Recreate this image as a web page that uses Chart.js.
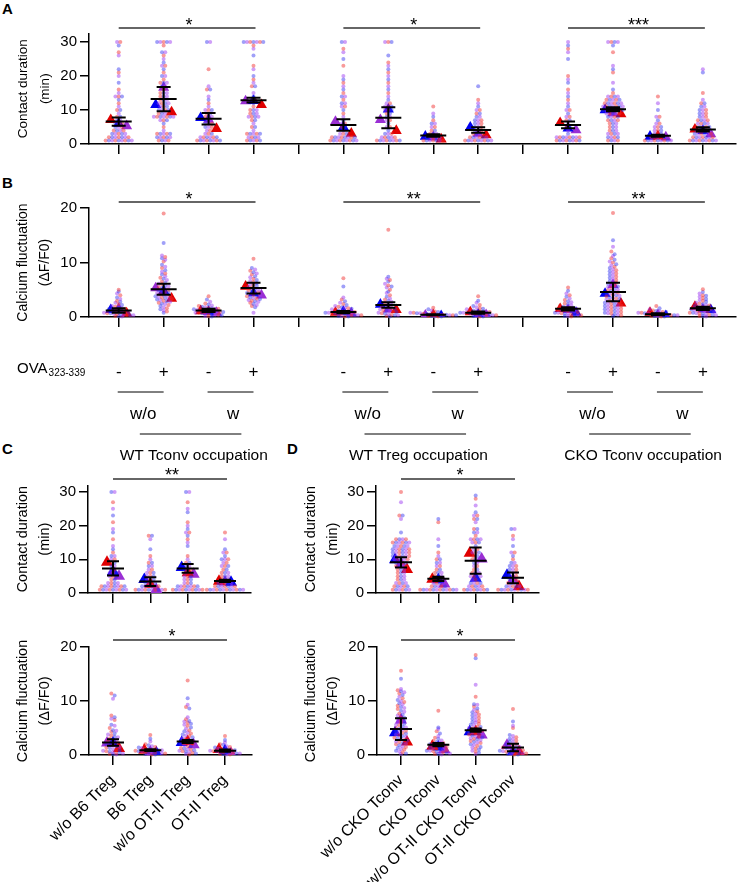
<!DOCTYPE html>
<html>
<head>
<meta charset="utf-8">
<script src="https://cdn.jsdelivr.net/npm/chart.js@4/dist/chart.umd.min.js"></script>
<style>
  body { margin: 0; background: #fff; width: 742px; height: 882px; position: relative; overflow: hidden;
         font-family: "Liberation Sans", Arial, sans-serif; }
  .p { position: absolute; }
  .tag { position: absolute; font-weight: bold; font-size: 15px; line-height: 15px; }
</style>
</head>
<body>
<div class="tag" style="left:2px;top:1px">A</div>
<div class="tag" style="left:2px;top:175px">B</div>
<div class="tag" style="left:2px;top:441px">C</div>
<div class="tag" style="left:287px;top:441px">D</div>

<div class="p" style="left:0;top:0;width:742px;height:160px"><canvas id="cA"></canvas></div>
<div class="p" style="left:0;top:160px;width:742px;height:315px"><canvas id="cB"></canvas></div>
<div class="p" style="left:0;top:440px;width:288px;height:170px"><canvas id="cC1"></canvas></div>
<div class="p" style="left:0;top:615px;width:288px;height:267px"><canvas id="cC2"></canvas></div>
<div class="p" style="left:288px;top:440px;width:288px;height:170px"><canvas id="cD1"></canvas></div>
<div class="p" style="left:288px;top:615px;width:288px;height:267px"><canvas id="cD2"></canvas></div>

<script>
// ---------- data: panel A (contact duration, min) ----------
const groupsAB = [0, 1, 2, 3, 5, 6, 7, 8, 10, 11, 12, 13];
const contactA = [
  [1,1,1,1,1,1,1,1,1,2,2,2,2,2,2,2,3,3,3,3,3,4,4,4,4,5,5,5,6,6,6,7,7,8,8,9,10,10,11,12,13,14,14,14,15,16,18,20,21,22,26,27,29,30,30],
  [1,1,1,1,2,2,2,2,2,3,3,3,3,3,4,5,6,7,7,7,8,8,8,8,8,8,8,9,9,9,9,10,10,10,10,11,11,11,12,12,12,12,13,13,13,14,14,14,15,15,15,16,17,17,18,18,18,19,20,20,21,22,23,23,24,25,26,27,27,29,30,30,30,30,30],
  [1,1,1,1,1,1,1,1,2,2,2,2,2,2,3,3,3,4,4,5,5,5,6,6,6,7,7,8,8,8,9,9,10,10,10,11,12,13,14,16,16,17,22,30,30],
  [1,1,1,1,1,2,2,2,2,3,3,3,3,3,4,5,5,6,7,7,8,8,8,8,9,9,9,10,10,10,11,12,13,13,14,15,17,17,18,19,20,22,23,26,28,29,30,30,30,30,30,30,30],
  [1,1,1,1,1,1,1,1,1,2,2,2,2,2,2,2,2,3,3,3,4,5,5,6,6,7,8,9,10,11,11,12,12,13,14,14,15,16,17,18,19,20,23,25,27,28,30,30],
  [1,1,1,1,1,1,1,1,2,2,2,2,2,3,3,3,4,5,5,6,7,7,8,8,9,9,10,10,10,11,11,11,12,12,13,14,15,16,17,18,19,20,21,22,23,24,26,30,30,30],
  [1,1,1,1,1,1,1,2,2,2,2,2,3,3,3,4,4,5,5,6,6,7,8,9,11],
  [1,1,1,1,1,1,1,1,1,2,2,2,2,2,2,3,3,3,3,4,4,4,5,5,5,6,6,6,7,7,7,8,8,9,9,10,10,11,12,13,17],
  [1,1,1,1,1,1,1,1,2,2,2,2,2,2,2,2,3,4,5,5,6,7,7,8,8,9,10,10,11,12,13,14,15,16,18,19,20,25,27,28,29,30],
  [1,1,1,1,2,2,2,2,3,3,3,3,4,4,4,5,5,5,6,6,6,7,7,7,7,8,8,8,8,9,9,9,9,9,10,10,10,10,10,10,10,11,11,11,11,11,11,11,12,12,12,12,12,12,13,13,13,13,13,14,14,14,14,15,16,18,21,22,23,27,29,30,30,30,30],
  [1,1,1,1,1,1,1,1,1,2,2,2,2,2,3,3,3,4,4,4,5,5,5,6,6,7,8,8,10,12,14],
  [1,1,1,1,1,1,1,1,1,2,2,2,2,2,2,2,3,3,3,3,3,3,4,4,4,4,4,5,5,5,5,5,6,6,6,6,7,7,7,7,8,8,8,9,9,9,10,10,10,11,11,12,12,13,15,21,22]
];
const redA    = [7.1, 9.4, 4.5, 11.5, 3.1, 3.9, 1.4, 2.6, 6.2, 8.8, 2.3, 4.3];
const blueA   = [6.0, 11.5, 7.7, 12.7, 5.0, 10.2, 2.2, 4.9, 4.6, 10.0, 2.2, 3.9];
const purpleA = [5.3, 16.6, 7.2, 12.6, 6.6, 7.1, 2.0, 3.1, 4.1, 9.1, 2.0, 2.9];
const meanA   = [6.6, 13.2, 7.4, 12.9, 5.6, 7.7, 2.5, 4.1, 5.6, 10.2, 2.4, 4.3];
const errA    = [1.2, 3.6, 1.7, 0.7, 1.7, 3.1, 0.4, 0.8, 1.0, 0.6, 0.3, 0.6];
const orderA  = ['rbp','bpr','bpr','pbr','pbr','pbr','bpr','bpr','rbp','bpr','brp','rbp'];
const sigA    = [[0, 3, '*'], [5, 8, '*'], [10, 13, '***']];

// ---------- data: panel B (calcium fluctuation, dF/F0) ----------
const calciumB = [
  [5.0,4.7,4.3,4.0,3.6,3.3,3.0,2.8,2.6,2.4,2.2,2.0,1.9,1.8,1.6,1.5,1.4,1.3,1.2,1.1,1.0,0.9,0.9,0.8,0.7,0.7,0.6,0.5,0.5,0.4,0.4,0.3,0.3,0.2,0.2,0.1],
  [19.0,13.6,11.3,11.0,10.8,10.5,10.2,9.6,9.2,9.0,8.6,8.3,8.0,7.8,7.5,7.2,7.0,6.8,6.5,6.3,6.1,6.0,5.8,5.6,5.5,5.3,5.2,5.0,4.9,4.8,4.6,4.5,4.4,4.2,4.1,4.0,3.9,3.8,3.7,3.6,3.5,3.4,3.3,3.2,3.1,3.0,2.9,2.8,2.6,2.5,2.4,2.2,2.0,1.8,1.6,1.4,1.2,1.0,0.8],
  [3.8,3.2,2.8,2.5,2.3,2.1,2.0,1.9,1.8,1.7,1.6,1.5,1.5,1.4,1.3,1.3,1.2,1.1,1.1,1.0,1.0,0.9,0.9,0.8,0.8,0.7,0.6,0.6,0.5,0.4,0.4,0.3,0.2,0.2,0.1],
  [10.7,9.0,8.7,8.5,8.2,8.0,7.8,7.5,7.3,7.0,6.8,6.6,6.4,6.2,6.0,5.9,5.7,5.5,5.4,5.2,5.0,4.9,4.8,4.6,4.5,4.4,4.2,4.1,4.0,3.9,3.8,3.6,3.5,3.4,3.3,3.1,3.0,2.9,2.8,2.6,2.4,2.2,2.0,1.8,0.8],
  [7.1,5.6,3.6,3.2,2.9,2.6,2.4,2.2,2.0,1.9,1.8,1.7,1.6,1.5,1.4,1.3,1.2,1.1,1.0,1.0,0.9,0.9,0.8,0.8,0.7,0.7,0.6,0.6,0.5,0.5,0.4,0.4,0.3,0.3,0.2,0.2,0.1,0.1],
  [16.0,7.4,7.0,6.8,6.5,6.1,5.8,5.6,5.4,5.0,4.7,4.4,4.0,3.7,3.4,3.2,3.0,2.8,2.6,2.4,2.2,2.0,1.9,1.8,1.6,1.5,1.4,1.3,1.2,1.1,1.0,0.9,0.8,0.7,0.6,0.5,0.4,0.3,0.3,0.2,0.1],
  [1.7,1.4,1.2,1.0,0.9,0.8,0.8,0.7,0.7,0.6,0.6,0.5,0.5,0.5,0.4,0.4,0.4,0.3,0.3,0.3,0.2,0.2,0.2,0.1,0.1,0.1],
  [3.8,3.0,2.6,2.2,2.0,1.8,1.6,1.5,1.4,1.3,1.2,1.1,1.0,1.0,0.9,0.9,0.8,0.8,0.7,0.7,0.6,0.6,0.5,0.5,0.4,0.4,0.3,0.3,0.2,0.2,0.1,0.1],
  [5.4,4.8,4.3,4.0,3.7,3.4,3.1,2.9,2.7,2.5,2.3,2.1,2.0,1.9,1.8,1.7,1.6,1.5,1.4,1.3,1.2,1.1,1.0,1.0,0.9,0.8,0.8,0.7,0.6,0.6,0.5,0.4,0.4,0.3,0.2,0.2,0.1],
  [19.1,14.1,12.9,12.0,11.5,11.2,10.8,10.5,10.2,10.0,9.7,9.5,9.2,9.0,8.8,8.6,8.4,8.2,8.0,7.8,7.6,7.4,7.2,7.0,6.8,6.6,6.5,6.3,6.1,6.0,5.8,5.6,5.5,5.3,5.2,5.0,4.9,4.8,4.6,4.5,4.4,4.2,4.1,4.0,3.9,3.8,3.6,3.5,3.4,3.3,3.2,3.0,2.9,2.8,2.7,2.6,2.5,2.4,2.3,2.2,2.1,2.0,1.9,1.8,1.7,1.6,1.5,1.4,1.3,1.2,1.1,1.0,0.9,0.8,0.7,0.6,0.5,0.4,0.3,0.2],
  [2.0,1.6,1.4,1.2,1.1,1.0,0.9,0.9,0.8,0.8,0.7,0.7,0.6,0.6,0.5,0.5,0.4,0.4,0.3,0.3,0.3,0.2,0.2,0.2,0.1,0.1],
  [5.1,4.6,4.3,4.0,3.9,3.7,3.5,3.3,3.1,3.0,2.8,2.6,2.5,2.4,2.2,2.1,2.0,1.9,1.8,1.7,1.6,1.5,1.4,1.3,1.2,1.2,1.1,1.0,1.0,0.9,0.8,0.8,0.7,0.6,0.6,0.5,0.4,0.4,0.3,0.2,0.2,0.1]
];
const redB    = [0.7, 3.4, 1.1, 5.6, 0.8, 1.3, 0.4, 0.9, 1.5, 2.5, 0.8, 1.9];
const blueB   = [1.3, 4.8, 1.0, 4.4, 1.0, 2.3, 0.2, 0.5, 0.8, 4.3, 0.2, 1.3];
const purpleB = [1.5, 5.3, 0.8, 4.0, 0.7, 1.4, 0.3, 0.4, 1.3, 5.9, 0.4, 1.4];
const meanB   = [1.2, 5.1, 1.2, 5.3, 0.9, 2.2, 0.4, 0.8, 1.5, 4.6, 0.5, 1.6];
const errB    = [0.4, 1.0, 0.3, 1.0, 0.2, 0.5, 0.1, 0.2, 0.3, 1.7, 0.2, 0.3];
const orderB  = ['bpr','pbr','rbp','rbp','rbp','bpr','prb','rbp','rpb','bpr','rpb','rpb'];
const sigB    = [[0, 3, '*'], [5, 8, '**'], [10, 13, '**']];
const ovaSigns = ['-', '+', '-', '+'];
const pairNames = ['w/o', 'w'];
const occupations = ['WT Tconv occupation', 'WT Treg occupation', 'CKO Tconv occupation'];

// ---------- data: panel C ----------
const groupsCD = [0, 1, 2, 3];
const labelsC = ['w/o B6 Treg', 'B6 Treg', 'w/o OT-II Treg', 'OT-II Treg'];
const contactC = [
  [1,1,1,1,1,1,1,1,1,2,2,2,2,2,2,2,2,3,3,3,3,4,4,5,5,5,6,6,6,7,7,8,8,9,9,10,10,11,11,12,13,14,16,18,19,21,23,25,27,30,30],
  [1,1,1,1,1,1,1,1,1,1,2,2,2,2,2,2,3,3,3,3,4,4,4,5,5,5,6,6,6,7,7,8,8,9,9,10,11,13,16,17,17],
  [1,1,1,1,1,1,1,1,1,1,2,2,2,2,2,2,2,3,3,3,4,4,4,5,5,5,6,6,7,7,7,8,8,9,9,10,11,14,15,16,17,18,18,19,20,21,24,25,27,30,30],
  [1,1,1,1,1,1,1,1,1,1,1,1,2,2,2,2,2,2,2,3,3,3,3,3,4,4,4,5,5,5,6,6,6,7,7,8,8,8,9,9,10,10,10,11,12,12,13,16,18]
];
const redC1 = [9.1, 2.6, 6.0, 3.5], blueC1 = [6.4, 4.0, 7.6, 3.2], purpleC1 = [5.0, 1.0, 5.6, 3.3];
const meanC1 = [7.3, 3.4, 7.3, 3.6], errC1 = [2.1, 1.3, 1.3, 0.3];
const orderC1 = ['rbp','brp','brp','rpb'];
const calciumC = [
  [11.4,11.0,10.4,7.3,7.0,6.7,6.5,5.6,5.4,5.0,4.6,4.5,4.3,4.0,3.8,3.6,3.4,3.3,3.0,2.9,2.8,2.6,2.5,2.4,2.2,2.0,1.9,1.8,1.6,1.5,1.4,1.3,1.1,1.0,0.9,0.8,0.7,0.6,0.5,0.4,0.4,0.3,0.2,0.2,0.1],
  [3.7,3.0,2.5,2.0,1.8,1.6,1.5,1.4,1.3,1.2,1.1,1.0,1.0,0.9,0.9,0.8,0.7,0.7,0.6,0.5,0.5,0.4,0.4,0.3,0.3,0.2,0.2,0.1,0.1],
  [13.8,10.5,9.3,8.9,8.6,7.0,6.6,6.3,6.2,6.0,5.8,5.6,5.4,5.1,4.9,4.6,4.4,4.2,4.0,3.8,3.6,3.5,3.3,3.1,3.0,2.8,2.7,2.5,2.4,2.2,2.1,2.0,1.8,1.7,1.6,1.5,1.3,1.2,1.1,1.0,0.9,0.8,0.7,0.6,0.5,0.4,0.3,0.2,0.1],
  [3.5,2.8,2.3,2.0,1.9,1.6,1.5,1.4,1.2,1.1,1.0,1.0,0.9,0.9,0.8,0.7,0.7,0.6,0.5,0.5,0.4,0.4,0.3,0.3,0.2,0.2,0.1,0.1]
];
const redC2 = [1.2, 0.9, 2.5, 1.0], blueC2 = [2.2, 0.4, 2.3, 0.8], purpleC2 = [2.2, 0.5, 1.9, 0.3];
const meanC2 = [2.3, 0.9, 2.5, 0.8], errC2 = [0.6, 0.15, 0.3, 0.2];
const orderC2 = ['pbr','rpb','brp','rbp'];

// ---------- data: panel D ----------
const labelsD = ['w/o CKO Tconv', 'CKO Tconv', 'w/o OT-II CKO Tconv', 'OT-II CKO Tconv'];
const contactD = [
  [1,1,1,1,1,1,2,2,2,2,2,3,3,3,3,4,4,4,5,5,5,6,6,6,7,7,7,8,8,8,8,9,9,9,9,10,10,10,10,10,11,11,11,11,11,11,12,12,12,12,12,12,13,13,13,13,13,13,14,14,14,14,14,15,15,15,15,15,15,16,16,16,16,18,22,23,23,27,30],
  [1,1,1,1,1,1,1,1,1,1,1,1,2,2,2,2,2,3,3,3,3,4,4,4,5,5,5,6,6,6,7,7,8,8,9,9,10,10,11,12,14,16,21,22],
  [1,1,1,1,1,1,1,1,2,2,2,2,2,3,3,3,3,4,4,4,5,5,5,5,6,6,6,7,7,8,8,9,9,10,10,10,11,11,12,12,12,13,13,14,15,15,15,16,16,16,16,17,18,18,19,19,21,22,22,23,23,24,26,28,29],
  [1,1,1,1,1,1,1,1,1,1,2,2,2,2,2,3,3,3,3,4,4,4,5,5,5,6,6,6,7,7,7,8,8,8,9,9,10,11,12,12,14,16,17,19,19]
];
const redD1 = [7.0, 4.1, 11.8, 1.9], blueD1 = [9.9, 3.9, 4.4, 5.3], purpleD1 = [8.7, 2.7, 10.1, 4.0];
const meanD1 = [9.1, 4.2, 9.6, 4.5], errD1 = [1.5, 0.6, 3.9, 1.6];
const orderD1 = ['bpr','rbp','rbp','bpr'];
const calciumD = [
  [15.6,14.1,12.2,12.0,11.8,11.6,11.4,11.1,10.8,10.5,10.2,10.0,9.8,9.6,9.4,9.1,8.9,8.7,8.5,8.2,8.0,7.7,7.5,7.3,7.0,6.9,6.7,6.5,6.3,6.1,6.0,5.8,5.6,5.5,5.3,5.1,5.0,4.8,4.7,4.5,4.4,4.2,4.1,4.0,3.8,3.7,3.5,3.4,3.2,3.1,3.0,2.8,2.7,2.5,2.4,2.2,2.1,2.0,1.8,1.6,1.5,1.3,1.1,1.0,0.8,0.6,0.5,0.3,0.2],
  [8.2,5.1,4.8,4.4,4.0,3.5,3.2,3.0,2.7,2.6,2.4,2.3,2.2,2.0,1.9,1.8,1.7,1.6,1.5,1.4,1.3,1.2,1.1,1.0,0.9,0.8,0.8,0.7,0.6,0.5,0.5,0.4,0.3,0.2,0.2,0.1],
  [18.5,17.9,13.0,10.8,9.4,9.3,9.0,8.6,8.4,8.1,7.9,7.7,7.5,7.3,7.1,6.9,6.7,6.5,6.3,6.1,6.0,5.8,5.6,5.5,5.3,5.2,5.0,4.9,4.8,4.6,4.5,4.4,4.2,4.1,4.0,3.9,3.8,3.6,3.5,3.4,3.3,3.1,3.0,2.9,2.8,2.6,2.5,2.3,2.2,2.0,1.9,1.7,1.5,1.4,1.2,1.0,0.8,0.6,0.4,0.2],
  [8.5,6.2,5.4,5.0,3.7,3.5,3.3,3.0,2.9,2.7,2.5,2.3,2.1,2.0,1.9,1.8,1.6,1.5,1.4,1.3,1.2,1.1,1.0,0.9,0.9,0.8,0.7,0.6,0.5,0.5,0.4,0.4,0.3,0.3,0.2,0.2,0.1,0.1]
];
const redD2 = [2.4, 1.6, 4.3, 0.6], blueD2 = [4.1, 1.5, 4.3, 0.6], purpleD2 = [6.5, 1.0, 3.7, 1.8];
const meanD2 = [4.8, 1.9, 4.6, 1.4], errD2 = [2.0, 0.3, 0.3, 0.7];
const orderD2 = ['bpr','rbp','brp','pbr'];
const sigCD = [[0, 3, '*']];
const sigC1 = [[0, 3, '**']];

// ---------- styles / layout ----------
const FONT = '"Liberation Sans", Arial, sans-serif';
Chart.defaults.font.family = FONT;
Chart.defaults.color = '#000';

const dotColors = ['rgba(240,45,45,0.48)', 'rgba(45,45,240,0.45)', 'rgba(155,55,240,0.48)'];
const triColors = { r: '#e00000', b: '#0000f0', p: '#9a2fd4' };
const tick14 = Array.from({ length: 14 }, (_, i) => i);

const geoAB = { w: 742, yW: 89, padRight: 0, tick0: 119, step: 45.38, xTicks: tick14, triR: 6.4, triGap: 8, meanW: 26, capW: 14 };
const geoA = Object.assign({}, geoAB, { h: 160, padTop: 33.5, xH: 16, yMax: 32.5, yTicks: [0, 10, 20, 30] });
const geoB = Object.assign({}, geoAB, { h: 315, padTop: 48, xH: 158, yMax: 20, yTicks: [0, 10, 20] });
const geoCD = { w: 288, tick0: 113, step: 37.33, xTicks: [0, 1, 2, 3], triR: 7, triGap: 6, meanW: 22, capW: 12 };
const geoTop = Object.assign({}, geoCD, { h: 170, yW: 88, padRight: 37, padTop: 45.3, xH: 17, yMax: 32, yTicks: [0, 10, 20, 30] });
const geoBot = Object.assign({}, geoCD, { h: 267, yW: 89, padRight: 36, padTop: 32, xH: 127, yMax: 20, yTicks: [0, 10, 20] });

// spread points of one group into rows so they don't sit on top of each other
function swarm(vals, gx, pxX, pxY, rowPx, gap) {
  const rows = {};
  vals.forEach((v, i) => {
    const k = Math.round(v * pxY / rowPx);
    (rows[k] = rows[k] || []).push({ v, i });
  });
  const pts = [];
  Object.values(rows).forEach(row => {
    const n = row.length;
    row.forEach((d, j) => pts.push({ x: gx + (j - (n - 1) / 2) * gap / pxX, y: d.v, c: d.i % 3 }));
  });
  return pts;
}

function axisY(g, title, size) {
  return {
    type: 'linear', min: 0, max: g.yMax,
    afterBuildTicks: s => { s.ticks = g.yTicks.map(v => ({ value: v })); },
    afterFit: s => { s.width = g.yW; },
    border: { display: true, color: '#000', width: 1.5 },
    grid: { drawOnChartArea: false, drawTicks: true, tickLength: 9, color: '#000', lineWidth: 1.5 },
    ticks: { font: { size: 15 }, padding: 3, color: '#000' },
    title: { display: true, text: title, color: '#000', font: { size, lineHeight: 22 / size }, padding: { top: 12, bottom: 0 } }
  };
}

function axisX(g, labels) {
  const ticks = labels
    ? { display: true, font: { size: 16 }, color: '#000', minRotation: 45, maxRotation: 45, autoSkip: false, padding: 6, callback: (v, i) => labels[i] }
    : { display: false };
  return {
    type: 'linear',
    min: -(g.tick0 - g.yW) / g.step,
    max: (g.w - g.padRight - g.tick0) / g.step,
    afterBuildTicks: s => { s.ticks = g.xTicks.map(v => ({ value: v })); },
    afterFit: s => { s.height = g.xH; s.paddingLeft = 0; s.paddingRight = 0; },
    border: { display: true, color: '#000', width: 1.5 },
    grid: { drawOnChartArea: false, drawTicks: true, tickLength: 10, color: '#000', lineWidth: 1.5 },
    ticks
  };
}

function marks(p, g) {
  return {
    id: 'marks',
    afterDatasetsDraw(chart) {
      const { ctx, scales: { x, y } } = chart;
      ctx.save();
      ctx.strokeStyle = '#000';
      ctx.lineWidth = 2;
      p.groups.forEach((gx, i) => {
        const cx = x.getPixelForValue(gx);
        const ym = y.getPixelForValue(p.mean[i]);
        const yt = y.getPixelForValue(p.mean[i] + p.err[i]);
        const yb = y.getPixelForValue(Math.max(0, p.mean[i] - p.err[i]));
        ctx.beginPath();
        ctx.moveTo(cx, yt); ctx.lineTo(cx, yb);
        ctx.moveTo(cx - g.meanW / 2, ym); ctx.lineTo(cx + g.meanW / 2, ym);
        ctx.moveTo(cx - g.capW / 2, yt); ctx.lineTo(cx + g.capW / 2, yt);
        ctx.moveTo(cx - g.capW / 2, yb); ctx.lineTo(cx + g.capW / 2, yb);
        ctx.stroke();
      });
      ctx.strokeStyle = '#333';
      ctx.lineWidth = 1.5;
      ctx.fillStyle = '#000';
      ctx.font = '18px ' + FONT;
      ctx.textAlign = 'center';
      ctx.textBaseline = 'alphabetic';
      p.sig.forEach(([a, b, t]) => {
        const yy = y.getPixelForValue(p.sigY);
        const x1 = x.getPixelForValue(a), x2 = x.getPixelForValue(b);
        ctx.beginPath(); ctx.moveTo(x1, yy); ctx.lineTo(x2 + 2, yy); ctx.stroke();
        ctx.fillText(t, (x1 + x2) / 2 + 3, yy + 2.5);
      });
      if (p.extra) p.extra(chart);
      ctx.restore();
    }
  };
}

// OVA / w/o / w / occupation labels under panel B
function drawOva(chart) {
  const { ctx, scales: { x }, chartArea } = chart;
  const b = chartArea.bottom;
  const line = (x1, y1, x2, y2) => { ctx.beginPath(); ctx.moveTo(x1, y1); ctx.lineTo(x2, y2); ctx.stroke(); };
  ctx.fillStyle = '#000'; ctx.strokeStyle = '#000'; ctx.lineWidth = 1;
  ctx.textAlign = 'center'; ctx.textBaseline = 'middle';
  [0, 5, 10].forEach((s, k) => {
    ctx.font = '17px ' + FONT;
    ovaSigns.forEach((t, j) => ctx.fillText(t, x.getPixelForValue(s + j), b + 55));
    [0, 2].forEach((j, q) => {
      const x1 = x.getPixelForValue(s + j), x2 = x.getPixelForValue(s + j + 1);
      line(x1 - 1, b + 75, x2, b + 75);
      ctx.fillText(pairNames[q], (x1 + x2) / 2 + 2, b + 97);
    });
    line(x.getPixelForValue(s + 0.47), b + 117, x.getPixelForValue(s + 2.73), b + 117);
    ctx.font = '15.5px ' + FONT;
    ctx.fillText(occupations[k], x.getPixelForValue(s + 1.67), b + 139);
  });
  ctx.textAlign = 'left';
  ctx.font = '15px ' + FONT;
  ctx.fillText('OVA', 17, b + 52);
  const w = ctx.measureText('OVA').width;
  ctx.font = '10px ' + FONT;
  ctx.fillText('323-339', 17 + w + 1, b + 56);
}

function makeChart(id, g, p) {
  const pxY = (g.h - g.padTop - g.xH) / g.yMax;
  const dots = [];
  p.dots.forEach((vals, i) => dots.push(...swarm(vals, p.groups[i], g.step, pxY, p.rowPx || pxY, 3.3)));
  const tri = ['r', 'b', 'p'].map(k => ({
    data: p.tri[k].map((v, i) => ({ x: p.groups[i] + (p.order[i].indexOf(k) - 1) * g.triGap / g.step, y: v })),
    pointStyle: 'triangle',
    pointRadius: g.triR,
    pointBackgroundColor: triColors[k],
    pointBorderWidth: 0
  }));
  new Chart(document.getElementById(id), {
    type: 'scatter',
    data: {
      datasets: [{
        data: dots,
        pointRadius: 2,
        pointBorderWidth: 0,
        pointBackgroundColor: dots.map(d => dotColors[d.c]),
        clip: 3
      }, ...tri]
    },
    options: {
      responsive: true, maintainAspectRatio: false, animation: false, events: [],
      layout: { padding: { top: g.padTop, right: g.padRight, left: 0, bottom: 0 } },
      plugins: { legend: { display: false }, tooltip: { enabled: false } },
      scales: { x: axisX(g, p.labels), y: axisY(g, p.title, p.titleSize) }
    },
    plugins: [marks(p, g)]
  });
}

const contactTitle = ['Contact duration', '(min)'];
const calciumTitle = ['Calcium fluctuation', '(\u0394F/F0)'];

makeChart('cA', geoA, { groups: groupsAB, dots: contactA, tri: { r: redA, b: blueA, p: purpleA },
  mean: meanA, err: errA, order: orderA, sig: sigA, sigY: 34.1, title: contactTitle, titleSize: 13.5 });
makeChart('cB', geoB, { groups: groupsAB, dots: calciumB, rowPx: 3.2, tri: { r: redB, b: blueB, p: purpleB },
  mean: meanB, err: errB, order: orderB, sig: sigB, sigY: 21.1, title: calciumTitle, titleSize: 14, extra: drawOva });
makeChart('cC1', geoTop, { groups: groupsCD, dots: contactC, tri: { r: redC1, b: blueC1, p: purpleC1 },
  mean: meanC1, err: errC1, order: orderC1, sig: sigC1, sigY: 33.9, title: contactTitle, titleSize: 14.5 });
makeChart('cC2', geoBot, { groups: groupsCD, dots: calciumC, rowPx: 3.2, tri: { r: redC2, b: blueC2, p: purpleC2 },
  mean: meanC2, err: errC2, order: orderC2, sig: sigCD, sigY: 21.3, title: calciumTitle, titleSize: 14.5, labels: labelsC });
makeChart('cD1', geoTop, { groups: groupsCD, dots: contactD, tri: { r: redD1, b: blueD1, p: purpleD1 },
  mean: meanD1, err: errD1, order: orderD1, sig: sigCD, sigY: 33.9, title: contactTitle, titleSize: 14.5 });
makeChart('cD2', geoBot, { groups: groupsCD, dots: calciumD, rowPx: 3.2, tri: { r: redD2, b: blueD2, p: purpleD2 },
  mean: meanD2, err: errD2, order: orderD2, sig: sigCD, sigY: 21.3, title: calciumTitle, titleSize: 14.5, labels: labelsD });
</script>
</body>
</html>
